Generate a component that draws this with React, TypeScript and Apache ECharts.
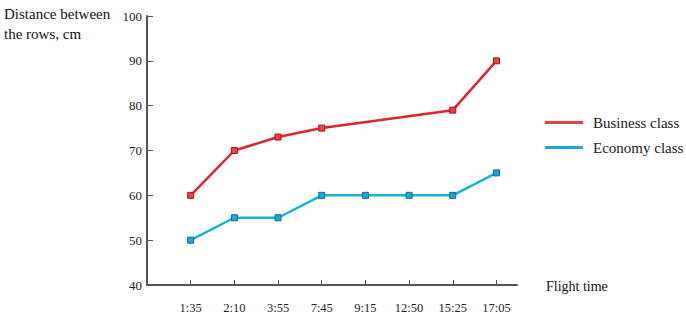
import React, { useEffect, useRef } from "react";
import * as echarts from "echarts";

const categories = ["1:35", "2:10", "3:55", "7:45", "9:15", "12:50", "15:25", "17:05"];
const businessValues: (number | null)[] = [60, 70, 73, 75, null, null, 79, 90];
const economyValues: (number | null)[] = [50, 55, 55, 60, 60, 60, 60, 65];
const yTicks = [40, 50, 60, 70, 80, 90, 100];

const FONT = "'Liberation Serif', 'DejaVu Serif', serif";

export default function App() {
  const ref = useRef<HTMLDivElement>(null);
  useEffect(() => {
    if (!ref.current) return;
    const chart = echarts.init(ref.current, undefined, { renderer: "svg" });
    const toPairs = (vals: (number | null)[]) =>
      vals.map((v, i) => (v === null ? null : [i + 1, v])).filter((p) => p !== null);
    chart.setOption({
      animation: false,
      backgroundColor: "#ffffff",
      grid: { left: 147, top: 16, right: 169, bottom: 37, containLabel: false },
      xAxis: {
        type: "value",
        min: 0,
        max: 8.47,
        interval: 1,
        axisLine: { show: true, lineStyle: { color: "#555", width: 2 } },
        axisTick: { show: true, inside: true, length: 5, lineStyle: { color: "#555", width: 1 } },
        splitLine: { show: false },
        axisLabel: {
          color: "#222",
          fontFamily: FONT,
          fontSize: 12.5,
          margin: 16,
          showMaxLabel: false,
          formatter: (v: number) => (Number.isInteger(v) && v >= 1 && v <= categories.length ? categories[v - 1] : ""),
        },
      },
      yAxis: {
        type: "value",
        min: yTicks[0],
        max: yTicks[yTicks.length - 1],
        interval: 10,
        axisLine: { show: true, lineStyle: { color: "#555", width: 2 } },
        axisTick: { show: true, inside: true, length: 6, lineStyle: { color: "#555", width: 1 } },
        splitLine: { show: false },
        axisLabel: { color: "#222", fontFamily: FONT, fontSize: 13, margin: 5 },
      },
      legend: {
        orient: "vertical",
        left: 540,
        top: 110,
        itemWidth: 38,
        itemHeight: 3,
        itemGap: 10,
        icon: "rect",
        itemStyle: { borderWidth: 0 },
        textStyle: { fontFamily: FONT, fontSize: 15, color: "#1a1a1a", padding: [0, 0, 0, 5] },
        data: ["Business class", "Economy class"],
      },
      series: [
        {
          name: "Business class",
          type: "line",
          data: toPairs(businessValues),
          connectNulls: true,
          symbol: "rect",
          symbolSize: 6,
          color: "#d8212b",
          lineStyle: { color: "#e0232d", width: 2.5 },
          itemStyle: { color: "#e8404a", borderColor: "#b0101a", borderWidth: 1 },
        },
        {
          name: "Economy class",
          type: "line",
          data: toPairs(economyValues),
          symbol: "rect",
          symbolSize: 6,
          color: "#17b2d8",
          lineStyle: { color: "#17b2d8", width: 2.5 },
          itemStyle: { color: "#1fa6d6", borderColor: "#0a6c9c", borderWidth: 1 },
        },
      ],
      graphic: [
        {
          type: "text",
          left: 4,
          top: 4,
          style: {
            text: "Distance between\nthe rows, cm",
            fontFamily: FONT,
            fontSize: 15,
            lineHeight: 20,
            fill: "#111",
          },
        },
        {
          type: "text",
          left: 546,
          top: 279,
          style: { text: "Flight time", fontFamily: FONT, fontSize: 14, fill: "#111" },
        },
      ],
    });
    return () => chart.dispose();
  }, []);
  return <div ref={ref} style={{ width: 686, height: 322, position: "absolute", left: 0, top: 0 }} />;
}
